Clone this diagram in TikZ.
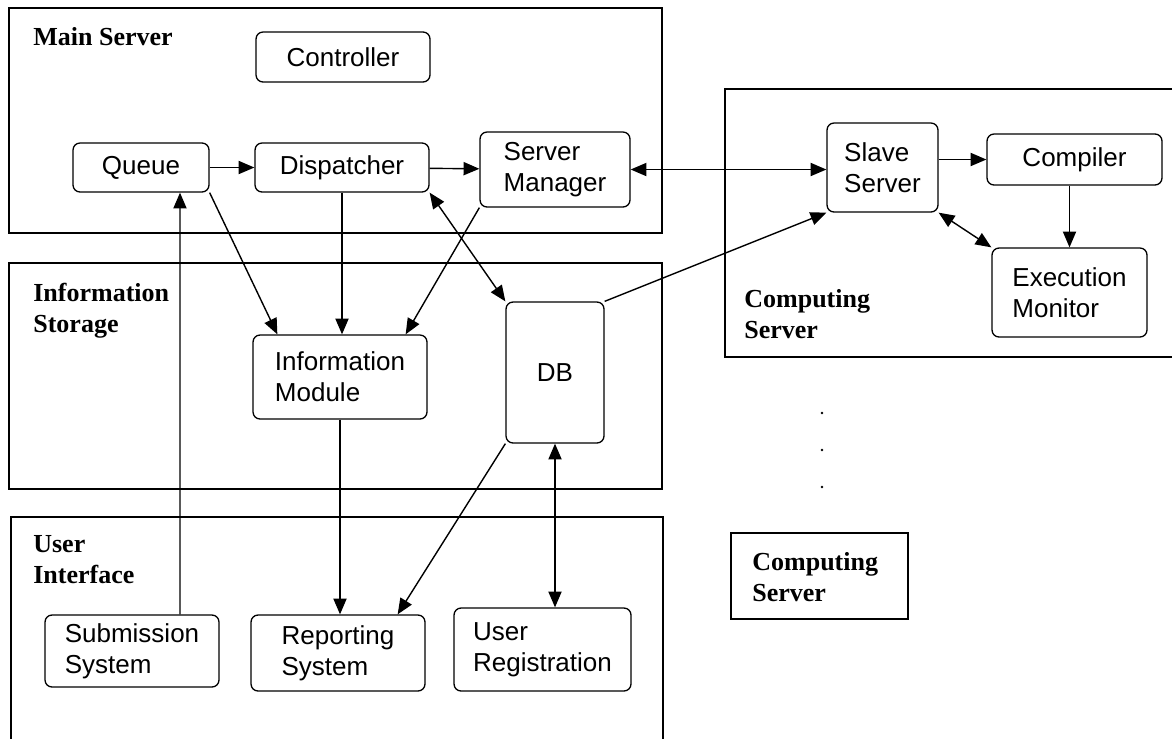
\documentclass[tikz,border=0pt]{standalone}
\usepackage{fontspec}
\setmainfont{Liberation Sans}
\newfontfamily\groupfont{Liberation Serif}
\usetikzlibrary{arrows.meta,calc}

\begin{document}
\begin{tikzpicture}[x=0.02cm,y=-0.02cm,
  >={Triangle[length=9pt,width=7.5pt]},
  every node/.style={font=\fontsize{14.8}{17.6}\selectfont},
  module/.style={draw,rounded corners=4pt,line width=0.75pt,align=left,inner sep=0pt},
  group/.style={draw,line width=1.1pt},
  grouplabel/.style={anchor=base west,align=left,inner sep=0pt,
                     font=\groupfont\bfseries\fontsize{14.8}{17.6}\selectfont},
  link/.style={line width=0.8pt}]
\useasboundingbox (0,0) rectangle (1172,738);

\draw[group] (9,8) rectangle (662,233);
\draw[group] (9,263) rectangle (662,489);
\draw[group] (11,742) -- (11,517) -- (663,517) -- (663,742);
\draw[group] (1175,89) -- (725,89) -- (725,357) -- (1175,357);
\draw[group] (731,533) rectangle (908,619);

\node[grouplabel] (mainlbl) at (33,45)  {Main Server};
\node[grouplabel] (infolbl) at (33,332) {Information\\Storage};
\node[grouplabel] (uilbl)   at (33,583) {User\\Interface};
\node[grouplabel] (cslbl)   at (744,338) {Computing\\Server};
\node[grouplabel] (cs2lbl)  at (752,601) {Computing\\Server};

\node[module,minimum width=3.48cm,minimum height=1.0cm]  (ctrl)  at (343,57)    {Controller};
\node[module,minimum width=2.72cm,minimum height=0.98cm] (queue) at (141,167.5) {Queue};
\node[module,minimum width=3.48cm,minimum height=0.98cm] (disp)  at (342,167.5) {Dispatcher};
\node[module,minimum width=3.0cm,minimum height=1.5cm]   (sm)    at (555,169.5) {Server\\Manager};
\node[module,minimum width=2.22cm,minimum height=1.78cm] (slave) at (882.5,167.5) {Slave\\Server};
\node[module,minimum width=3.5cm,minimum height=1.02cm]  (comp)  at (1074.5,159.5) {Compiler};
\node[module,minimum width=3.1cm,minimum height=1.78cm]  (exec)  at (1069.5,292.5) {Execution\\Monitor};
\node[module,minimum width=3.48cm,minimum height=1.68cm] (im)    at (340,377)   {Information\\Module};
\node[module,minimum width=1.96cm,minimum height=2.82cm] (db)    at (555,372.5) {DB};
\node[module,minimum width=3.48cm,minimum height=1.44cm] (sub)   at (132,651)   {Submission\\System};
\node[module,minimum width=3.48cm,minimum height=1.52cm] (rep)   at (338,653)   {Reporting\\System};
\node[module,minimum width=3.54cm,minimum height=1.66cm] (ureg)  at (542.5,649.5) {User\\Registration};

\draw[link,->] (queue) -- (disp);
\draw[link,->] (disp) -- (sm);
\draw[link,<->] (sm.east) -- (sm.east -| slave.west);
\draw[link,->] (slave.east |- comp.west) -- (comp.west);
\draw[link,->] (comp.south -| exec.north) -- (exec.north);
\draw[link,<->] (slave.south east) -- (exec.north west);
\draw[link,->] (db.north east) -- (slave.south west);
\draw[link,->] ([xshift=0.96cm]sub.north) -- ([xshift=0.78cm]queue.south);
\draw[link,->] (queue.south east) -- ([xshift=0.5cm]im.north west);
\draw[link,->] (disp.south) -- (disp.south |- im.north);
\draw[link,->] (sm.south west) -- ([xshift=-0.44cm]im.north east);
\draw[link,<->] (disp.south east) -- (db.north west);
\draw[link,->] (im.south) -- (im.south |- rep.north);
\draw[link,->] (db.south west) -- ([xshift=-0.56cm]rep.north east);
\draw[link,<->] (db.south) -- (db.south |- ureg.north);

\foreach \y in {413,450,487} \fill (822,\y) circle (0.8pt);
\end{tikzpicture}
\end{document}
